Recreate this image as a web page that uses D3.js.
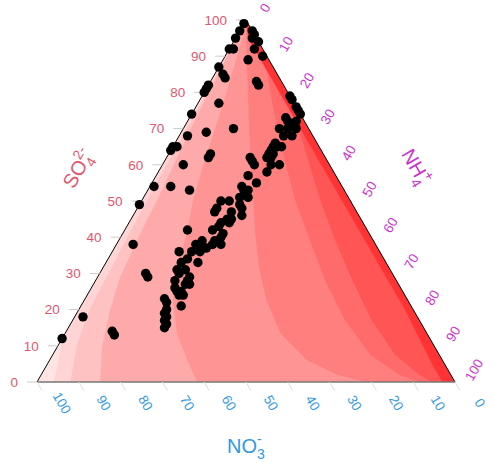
<!DOCTYPE html>
<html>
<head>
<script src="https://d3js.org/d3.v7.min.js"></script>
<style>
  body { margin: 0; background: #fff; }
  text { font-family: "Liberation Sans", Arial, sans-serif; }
</style>
</head>
<body>
<div id="my_dataviz"></div>
<script>
// sample compositions in percent (one entry per dot)
const so4 = [99,97,97,96,95,95,94,92,92,92,90,89,87,85,84,83,82,82,81,80,77,74,70,69,68,65,65,64,63,62,60,54,54,53,49,42,38,30,29,18,12,14,13,
  79,78,76,75,74,73,72,72,71,70,70,70,68,68,66,65,65,65,64,63,62,62,62,61,60,60,60,58,57,55,54,53,53,52,51,51,50,50,49,48,48,47,47,46,45,45,44,44,43,42,41,40,39,38,38,39,38,37,37,36,36,36,34,33,33,31,31,30,29,28,28,27,27,26,25,25,24,24,23,22,21,20,19,18,17,16,15,63];
const nh4 = [0,0,3,4,0,4,6,0,1,6,9,6,0,2,3,11,12,0,0,0,5,0,12,6,2,0,1,0,10,10,5,1,5,10,0,15,4,11,12,2,0,11,12,
  21,22,24,25,26,23,24,26,25,23,27,25,27,25,24,26,24,25,24,24,25,20,24,21,22,28,26,26,22,25,22,23,24,24,23,25,19,21,24,19,25,19,23,26,24,23,24,22,22,21,24,24,23,23,25,20,19,21,22,21,16,19,19,22,18,18,20,19,22,19,22,23,22,20,22,21,23,22,19,20,24,21,21,22,22,23,23,25];
const no3 = [1,3,0,0,5,1,0,8,7,2,1,5,13,13,13,6,6,18,19,20,18,26,18,25,30,35,34,36,27,28,35,45,41,37,51,43,58,59,59,80,88,75,75,
  0,0,0,0,0,4,4,2,4,7,3,5,5,7,10,9,11,10,12,13,13,18,14,18,18,12,14,16,21,20,24,24,23,24,26,24,31,29,27,33,27,34,30,28,31,32,32,34,35,37,35,36,38,39,37,41,43,42,41,43,48,45,47,45,49,51,49,51,49,53,50,50,51,54,53,54,53,54,58,58,55,59,60,60,61,61,62,12];

const tickValues = [0, 10, 20, 30, 40, 50, 60, 70, 80, 90, 100];

// filled colour bands: each boundary runs from the top/edge down to the bottom edge,
// given as [SO4, NH4] pairs; the band fills everything on its NH4-rich side
const bandLines = [
  [[12, 0], [5, 2.5], [0, 4]],
  [[100, 0], [80, 0.6], [60, 1.0], [40, 1.6], [20, 2.6], [10, 4.5], [0, 8]],
  [[100, 0], [83.4, 0.9], [72.4, 1.6], [61.3, 2.6], [50.3, 3.6], [41.2, 4.2], [29, 5.4], [19.9, 7.5], [9.7, 10.7], [0, 15.1]],
  [[100, 0], [93.1, 2.1], [83.4, 4.5], [72.4, 7.1], [61.3, 9.5], [50.3, 12.2], [41.2, 15.3], [31.8, 17.6], [22.7, 21.2], [13.5, 26.7], [6.1, 32.9], [0, 38.3]],
  [[100, 0], [89, 5.7], [72.4, 14.5], [58.6, 21.9], [50.3, 26.6], [41.2, 31.6], [31.8, 37.2], [22.7, 43.5], [13.5, 51.5], [6.1, 61.5], [1.9, 71], [0, 79]],
  [[91.7, 8.3], [77.9, 17.2], [64.1, 26.6], [50.3, 36.6], [39.2, 45.7], [28.2, 54.8], [17.1, 65.1], [7.5, 76], [1.9, 85.8], [0, 91.6]],
  [[77.9, 22.1], [64.1, 32.1], [50.3, 42.6], [39.2, 51.7], [28.2, 61.3], [17.1, 71.5], [7.5, 81.9], [1.9, 90.6], [0, 94.5]],
  [[95, 3], [80, 18], [60, 38], [40, 58], [20, 78], [5, 92], [0, 97]]
];
const baseColor = "#ffe4e4";
const bandColors = ["#ffd4d4", "#ffc2c2", "#ffaaaa", "#ff9494", "#ff7e7e", "#ff6a6a", "#ff5555", "#ff3333"];

const so4Col = "#e2566c", nh4Col = "#cc33cc", no3Col = "#3399dd";

const svg = d3.select("#my_dataviz").append("svg")
  .attr("width", 493).attr("height", 468);

// ternary -> screen: x from NH4 + SO4/2, y from SO4
const x = d3.scaleLinear().domain([0, 100]).range([37, 455]);
const y = d3.scaleLinear().domain([0, 100]).range([382, 20]);
const proj = (s, n) => [x(n + s / 2), y(s)];

const top_ = proj(100, 0), right_ = proj(0, 100), left_ = proj(0, 0);
const line = d3.line();

svg.append("clipPath").attr("id", "tri")
  .append("path").attr("d", line([top_, right_, left_]) + "Z");

const bands = svg.append("g").attr("clip-path", "url(#tri)");
bands.append("path").attr("d", line([top_, right_, left_]) + "Z").attr("fill", baseColor);
bandLines.forEach(function (b, i) {
  const pts = b.map(d => proj(d[0], d[1]));
  pts.push(right_, top_);
  bands.append("path").attr("d", line(pts) + "Z").attr("fill", bandColors[i]);
});

// edges
svg.append("path").attr("d", line([left_, top_, right_])).attr("fill", "none")
  .attr("stroke", "#000").attr("stroke-width", 1);
svg.append("path").attr("d", line([left_, right_])).attr("stroke", "#777").attr("stroke-width", 1.3);

// SO4 axis (left)
tickValues.forEach(function (t) {
  const p = proj(t, 0);
  svg.append("line").attr("x1", p[0] - 10).attr("x2", p[0]).attr("y1", p[1]).attr("y2", p[1])
    .attr("stroke", "#ccc");
  svg.append("text").attr("x", p[0] - 19).attr("y", p[1]).attr("dy", "0.35em")
    .attr("text-anchor", "end").attr("font-size", 13.5).attr("fill", so4Col).text(t);
});
// NH4 axis (right)
tickValues.forEach(function (t) {
  const p = proj(100 - t, t);
  svg.append("text").attr("transform", `translate(${p[0] + 19},${p[1] - 12}) rotate(-60)`)
    .attr("dy", "0.35em").attr("text-anchor", "middle").attr("font-size", 13.5)
    .attr("fill", nh4Col).text(t);
});
// NO3 axis (bottom)
tickValues.forEach(function (t) {
  const p = proj(0, 100 - t);
  svg.append("line").attr("x1", p[0]).attr("y1", p[1]).attr("x2", p[0] + 5).attr("y2", p[1] + 8.7)
    .attr("stroke", "#ddd");
  svg.append("text").attr("transform", `translate(${p[0] + 25},${p[1] + 21}) rotate(60)`)
    .attr("dy", "0.35em").attr("text-anchor", "middle").attr("font-size", 13.5)
    .attr("fill", no3Col).text(t);
});

// axis titles
function ionTitle(tx, ty, rot, col, base, sub, sup) {
  const t = svg.append("text").attr("transform", `translate(${tx},${ty}) rotate(${rot})`)
    .attr("text-anchor", "middle").attr("font-size", 20).attr("fill", col);
  t.append("tspan").text(base);
  t.append("tspan").attr("font-size", 14).attr("dy", 6).text(sub);
  t.append("tspan").attr("font-size", 14).attr("dx", -8).attr("dy", -15).text(sup);
}
ionTitle(84, 172, -60, so4Col, "SO", "4", "2-");
ionTitle(410, 170, 60, nh4Col, "NH", "4", "+");
ionTitle(246, 453, 0, no3Col, "NO", "3", "-");

// dots
svg.append("g").selectAll("circle")
  .data(so4.map((s, i) => ({ s: s, n: nh4[i], o: no3[i] })))
  .enter().append("circle")
  .attr("cx", d => proj(d.s, d.n)[0])
  .attr("cy", d => proj(d.s, d.n)[1])
  .attr("r", 4.7)
  .attr("fill", "#000");
</script>
</body>
</html>
